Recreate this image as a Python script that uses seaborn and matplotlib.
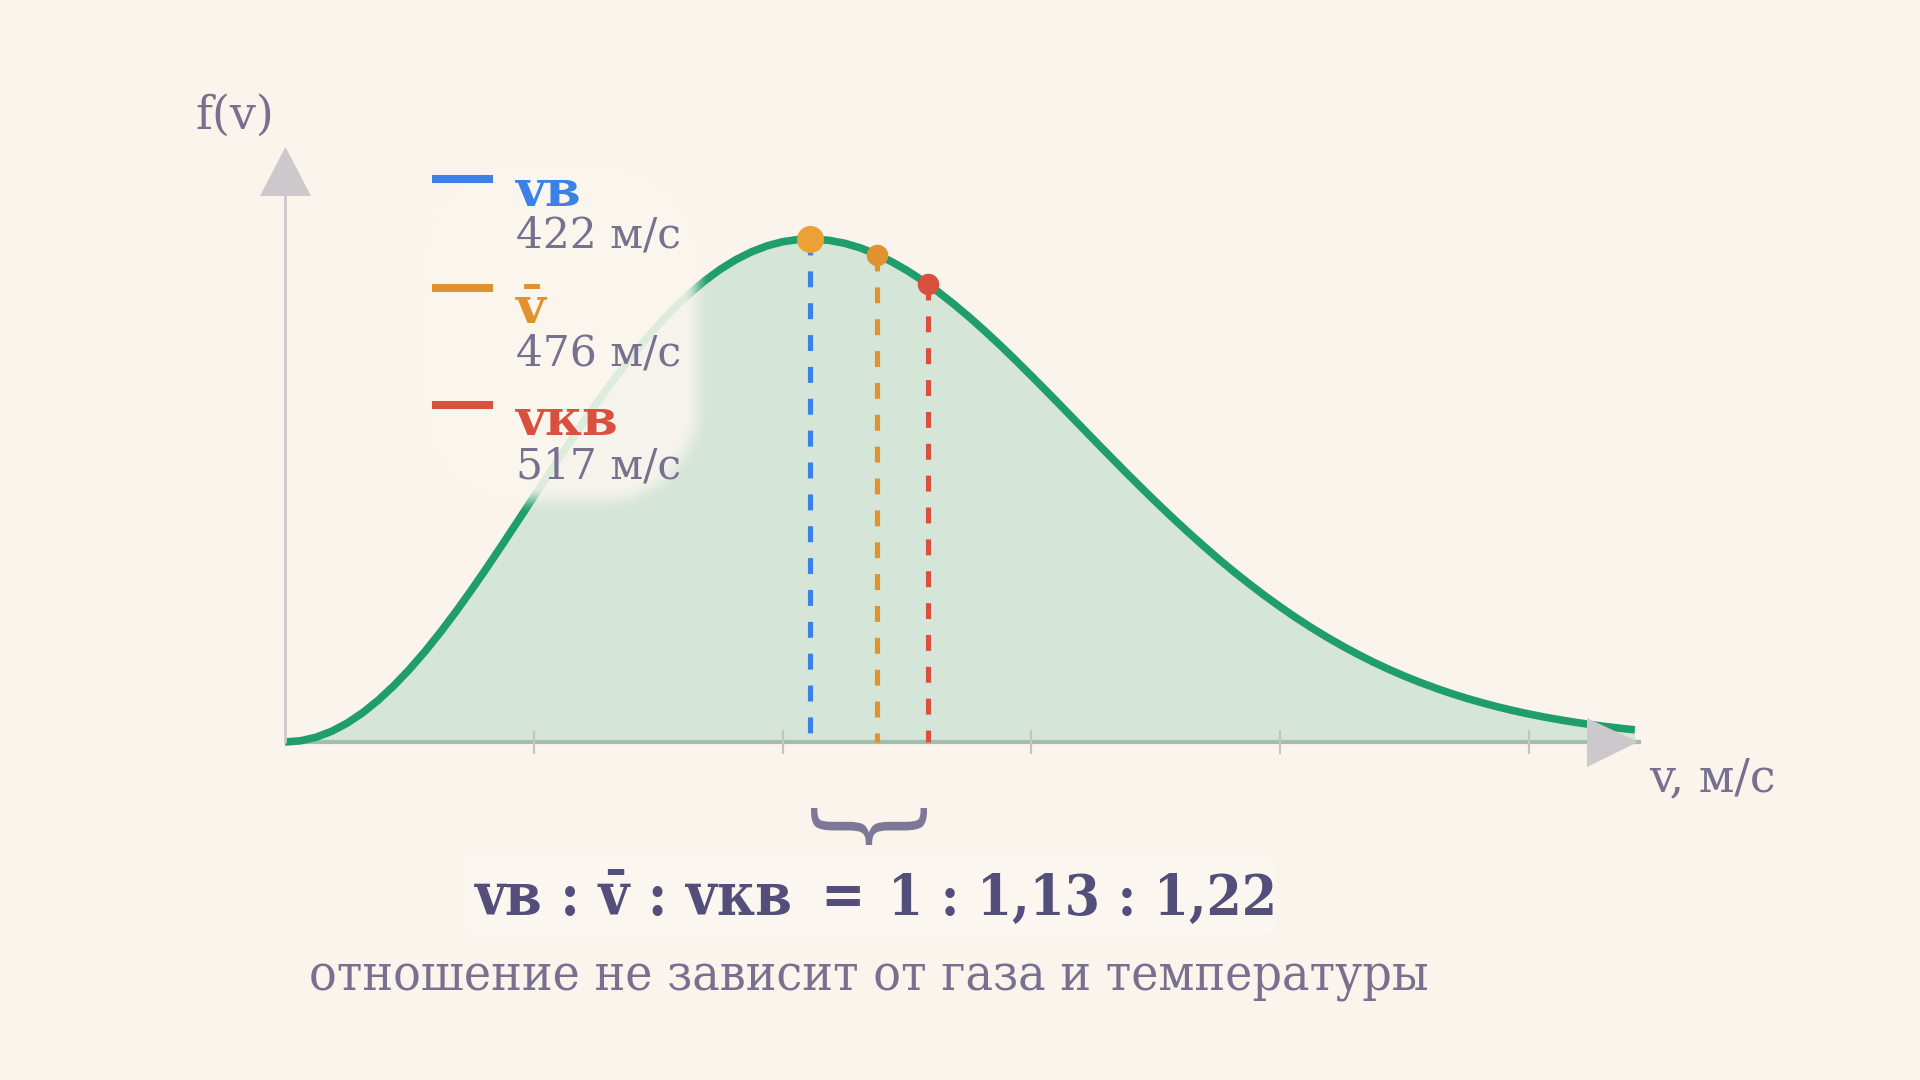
import numpy as np
import pandas as pd
import matplotlib
matplotlib.use("Agg")
import matplotlib.pyplot as plt
import seaborn as sns
from matplotlib import font_manager as fm
from matplotlib.patches import Polygon, PathPatch, FancyBboxPatch
from matplotlib.lines import Line2D
from matplotlib.textpath import TextPath
from matplotlib.font_manager import FontProperties
from matplotlib.transforms import Affine2D

# ---------------- data ----------------
speeds = [0, 12.5, 25, 37.5, 50, 62.5, 75, 87.5, 100, 112.5, 125, 137.5, 150, 162.5,
          175, 187.5, 200, 212.5, 225, 237.5, 250, 262.5, 275, 287.5, 300, 312.5,
          325, 337.5, 350, 362.5, 375, 387.5, 400, 412.5, 425, 437.5, 450, 462.5,
          475, 487.5, 500, 512.5, 525, 537.5, 550, 562.5, 575, 587.5, 600, 612.5,
          625, 637.5, 650, 662.5, 675, 687.5, 700, 712.5, 725, 737.5, 750, 762.5,
          775, 787.5, 800, 812.5, 825, 837.5, 850, 862.5, 875, 887.5, 900, 912.5,
          925, 937.5, 950, 962.5, 975, 987.5, 1000, 1012.5, 1025, 1037.5, 1050,
          1062.5, 1075, 1085]
density = [0.0, 0.0024, 0.0095, 0.0213, 0.0376, 0.0583, 0.0832, 0.1120, 0.1443,
           0.1799, 0.2185, 0.2595, 0.3027, 0.3475, 0.3936, 0.4405, 0.4877, 0.5349,
           0.5816, 0.6273, 0.6716, 0.7144, 0.7550, 0.7932, 0.8288, 0.8615, 0.8910,
           0.9172, 0.9399, 0.9590, 0.9745, 0.9864, 0.9945, 0.9990, 0.9999, 0.9973,
           0.9914, 0.9823, 0.9701, 0.9551, 0.9374, 0.9173, 0.8950, 0.8707, 0.8447,
           0.8172, 0.7884, 0.7585, 0.7278, 0.6966, 0.6650, 0.6332, 0.6013, 0.5697,
           0.5384, 0.5076, 0.4774, 0.4479, 0.4193, 0.3916, 0.3647, 0.3390, 0.3145,
           0.2910, 0.2687, 0.2474, 0.2274, 0.2085, 0.1908, 0.1742, 0.1586, 0.1442,
           0.1308, 0.1184, 0.1070, 0.0964, 0.0867, 0.0779, 0.0697, 0.0623, 0.0556,
           0.0495, 0.0440, 0.0390, 0.0345, 0.0304, 0.0268, 0.0242]

marker_labels = ["vв", "v\u0304", "vкв"]
marker_speeds = [422, 476, 517]
marker_density = [1.0, 0.969, 0.910]
marker_values = ["422 м/с", "476 м/с", "517 м/с"]
tick_speeds = [200, 400, 600, 800, 1000]

y_label = "f(v)"
x_label = "v, м/с"
ratio_left = "vв : v\u0304 : vкв"
ratio_eq = "="
ratio_right = "1 : 1,13 : 1,22"
note_text = "отношение не зависит от газа и температуры"

# ---------------- style ----------------
BG = "#faf4ed"
TXT = "#77708f"
EQ = "#544e7a"
GREEN = "#1f9e6b"
AXGRAY = "#cdc8cb"
line_colors = ["#3b82e6", "#e0922f", "#d9503f"]
dot_colors = ["#eba038", "#e0922f", "#d9503f"]
dot_sizes = [380, 240, 240]

sns.set_theme(style="white", rc={"figure.facecolor": BG, "axes.facecolor": BG})

names = {f.name for f in fm.fontManager.ttflist}
REG = dict(family=["DejaVu Serif"])
if "DejaVu Serif Condensed" in names:
    COND = dict(family=["DejaVu Serif Condensed", "DejaVu Serif"])
else:
    COND = dict(family=["DejaVu Serif"], stretch="condensed")
plt.rcParams["font.family"] = ["DejaVu Serif"]

W, H = 1920, 1080
fig = plt.figure(figsize=(W / 100, H / 100), dpi=100, facecolor=BG)

def fx(px):
    return px / W

def fy(py):
    return 1 - py / H

# axes geometry (pixels)
X0, BASE = 285, 742
PPV = 525 / 422       # px per m/s
PPF = 503             # px per unit density
XMAX, YMAX = 1100, 1.2
ax = fig.add_axes([fx(X0), fy(BASE), XMAX * PPV / W, YMAX * PPF / H])

# y axis line + arrow (figure coords)
fig.add_artist(Line2D([fx(X0), fx(X0)], [fy(BASE), fy(196)], transform=fig.transFigure,
                      color=AXGRAY, lw=2.0, zorder=0.5))
fig.add_artist(Polygon([[fx(260), fy(196)], [fx(311), fy(196)], [fx(285.5), fy(147)]],
                       closed=True, transform=fig.transFigure, color=AXGRAY, lw=0, zorder=0.5))
# x arrow
fig.add_artist(Polygon([[fx(1587), fy(718)], [fx(1587), fy(767)], [fx(1638), fy(742)]],
                       closed=True, transform=fig.transFigure, color=AXGRAY, lw=0, zorder=0.5))

df = pd.DataFrame({"v": speeds, "f": density})

# curve
sns.lineplot(data=df, x="v", y="f", ax=ax, color=GREEN, linewidth=5.5, zorder=4,
             sort=False, estimator=None)
curve = ax.lines[-1]
curve.set_linewidth(5.5)
curve.set_clip_on(False)
curve.set_solid_capstyle("butt")
curve.set_solid_joinstyle("round")

# fill under curve
ax.fill_between(df["v"], 0, df["f"], color=GREEN, alpha=0.17, lw=0, zorder=2, clip_on=False)
# x axis line
ax.plot([0, 1090], [0, 0], color="#a2bfad", lw=3.0, zorder=3, clip_on=False,
        solid_capstyle="butt")
# ticks
tick_half = 12 / PPF
ax.vlines(tick_speeds, -tick_half, tick_half, color="#c6c3c0", lw=1.6, zorder=3, clip_on=False)

# dashed markers
for s, d, lc in zip(marker_speeds, marker_density, line_colors):
    ax.plot([s, s], [d, 0], color=lc, lw=3.7, dashes=(3.1, 3.1), zorder=5,
            clip_on=False, solid_capstyle="butt", dash_capstyle="butt")
for s, d, dc, sz in zip(marker_speeds, marker_density, dot_colors, dot_sizes):
    ax.scatter([s], [d], s=sz, color=dc, zorder=6, clip_on=False, lw=0)

ax.set_xlim(0, XMAX)
ax.set_ylim(0, YMAX)
ax.axis("off")

# glow behind legend (full-figure overlay axes)
gax = fig.add_axes([0, 0, 1, 1], zorder=1)
gax.set_xlim(0, W)
gax.set_ylim(H, 0)
gax.axis("off")
gax.patch.set_alpha(0)
yy, xx = np.mgrid[0:H, 0:W]
cx, cy, hx, hy, r = 560, 333, 138, 168, 95
qx = np.abs(xx - cx) - (hx - r)
qy = np.abs(yy - cy) - (hy - r)
d = np.hypot(np.maximum(qx, 0), np.maximum(qy, 0)) + np.minimum(np.maximum(qx, qy), 0) - r
t = np.clip((d + 14) / 26, 0, 1)
alpha = 0.88 * (1 - t * t * (3 - 2 * t))
img = np.zeros(alpha.shape + (4,))
img[..., 0] = 250 / 255
img[..., 1] = 246 / 255
img[..., 2] = 238 / 255
img[..., 3] = alpha
gax.imshow(img, extent=[0, W, H, 0], interpolation="bilinear", zorder=1)

# legend
leg_y = [179, 288, 405]
lab_base = [206, 323, 435]
val_base = [248, 365, 478]
for i in range(3):
    fig.add_artist(Line2D([fx(432), fx(493)], [fy(leg_y[i])] * 2, transform=fig.transFigure,
                          color=line_colors[i], lw=5.8, zorder=5, solid_capstyle="butt"))
    fig.text(fx(516), fy(lab_base[i]), marker_labels[i], color=line_colors[i], fontsize=37,
             fontweight="bold", ha="left", va="baseline", zorder=6, **REG)
    fig.text(fx(516), fy(val_base[i]), marker_values[i], color=TXT, fontsize=30.5,
             ha="left", va="baseline", zorder=6, **REG)

# axis labels
fig.text(fx(235), fy(129), y_label, color=TXT, fontsize=33, ha="center", va="baseline",
         zorder=6, **REG)
fig.text(fx(1649), fy(791), x_label, color=TXT, fontsize=33, ha="left", va="baseline",
         zorder=6, **REG)

# brace
fp = FontProperties(family="DejaVu Serif")
tp = TextPath((0, 0), "{", size=100, prop=fp)
ext = tp.get_extents()
tr = (Affine2D().translate(-(ext.x0 + ext.x1) / 2, -(ext.y0 + ext.y1) / 2)
      .rotate_deg(90))
p1 = tr.transform_path(tp)
e1 = p1.get_extents()
sx = 116 / e1.width
sy = 37 / e1.height
tr2 = Affine2D().scale(sx, sy).translate(869, H - 826.5).scale(1 / W, 1 / H)
brace = tr2.transform_path(p1)
fig.add_artist(PathPatch(brace, transform=fig.transFigure, color="#7d7898", lw=0, zorder=6))

# equation box + text
fig.add_artist(FancyBboxPatch((fx(465), fy(935)), fx(1275) - fx(465), fy(855) - fy(935),
                              boxstyle="round,pad=0,rounding_size=0.01",
                              transform=fig.transFigure, facecolor="white", alpha=0.22,
                              lw=0, zorder=5))
fig.text(fx(793), fy(915), ratio_left, color=EQ, fontsize=42.5, fontweight="bold",
         ha="right", va="baseline", zorder=6, **COND)
fig.text(fx(843), fy(915), ratio_eq, color=EQ, fontsize=42.5, fontweight="bold",
         ha="center", va="baseline", zorder=6, **COND)
fig.text(fx(888), fy(915), ratio_right, color=EQ, fontsize=40.5, fontweight="bold",
         ha="left", va="baseline", zorder=6, **COND)
fig.text(fx(869), fy(990), note_text, color=TXT, fontsize=37, ha="center",
         va="baseline", zorder=6, **COND)

fig.savefig("out.png", dpi=100, facecolor=BG)
